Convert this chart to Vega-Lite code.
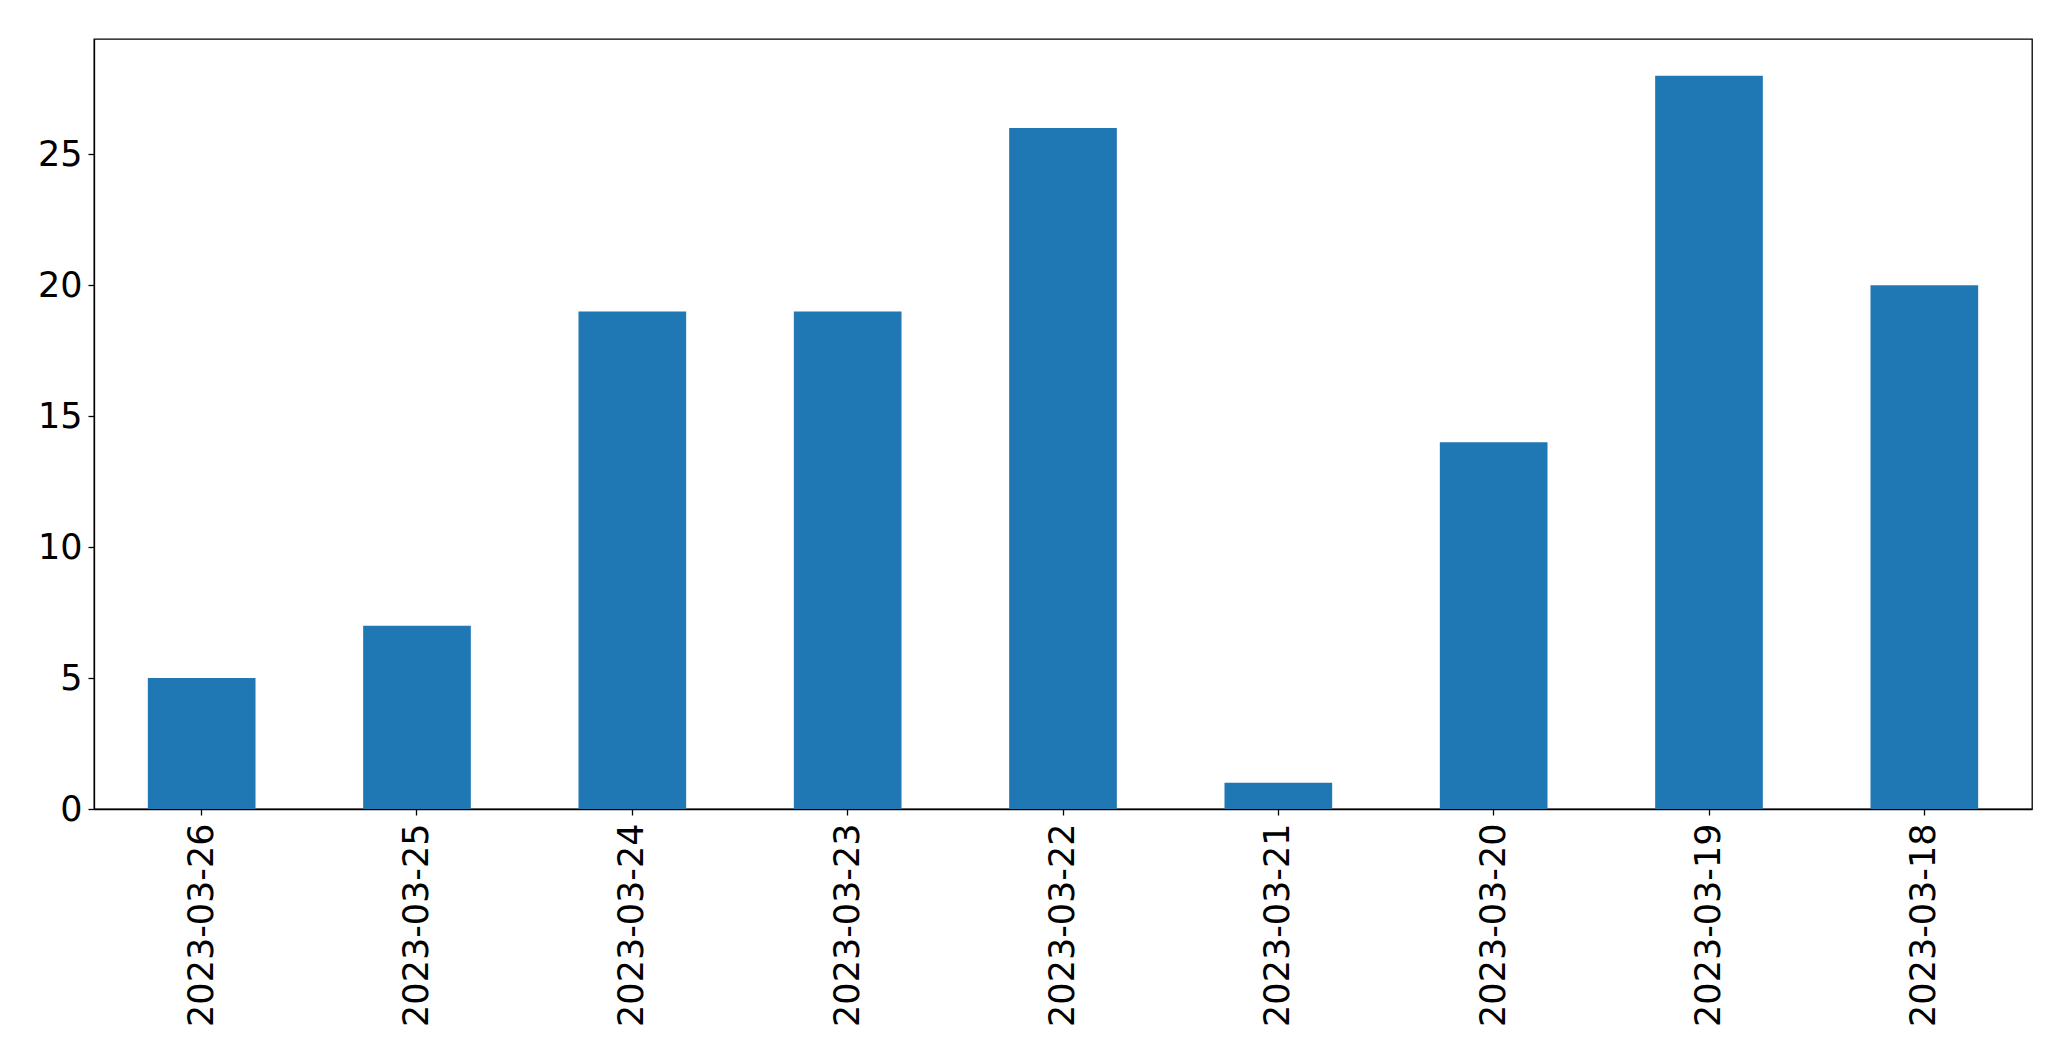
{
  "$schema": "https://vega.github.io/schema/vega-lite/v6.json",
  "width": 1938,
  "height": 770,
  "autosize": {"type": "none"},
  "padding": {"left": 94, "top": 39, "right": 39, "bottom": 252},
  "background": "white",
  "config": {
    "view": {"stroke": "#000000", "strokeWidth": 1.3},
    "axis": {
      "labelFont": "DejaVu Sans",
      "labelFontSize": 35,
      "labelColor": "#000000",
      "labelLimit": 0,
      "tickColor": "#000000",
      "domainColor": "#000000",
      "domainWidth": 1.3,
      "tickWidth": 1.3,
      "tickSize": 6,
      "grid": false,
      "title": null
    }
  },
  "data": {
    "values": [
      {"date": "2023-03-26", "count": 5},
      {"date": "2023-03-25", "count": 7},
      {"date": "2023-03-24", "count": 19},
      {"date": "2023-03-23", "count": 19},
      {"date": "2023-03-22", "count": 26},
      {"date": "2023-03-21", "count": 1},
      {"date": "2023-03-20", "count": 14},
      {"date": "2023-03-19", "count": 28},
      {"date": "2023-03-18", "count": 20}
    ]
  },
  "mark": {"type": "bar", "color": "#1f77b4"},
  "encoding": {
    "x": {
      "field": "date",
      "type": "nominal",
      "sort": null,
      "scale": {"paddingInner": 0.5, "paddingOuter": 0.25},
      "axis": {"labelAngle": -90, "labelPadding": 8, "labelAlign": "right", "labelBaseline": "middle"}
    },
    "y": {
      "field": "count",
      "type": "quantitative",
      "scale": {"domain": [0, 29.4], "nice": false},
      "axis": {"values": [0, 5, 10, 15, 20, 25], "labelPadding": 6}
    }
  }
}
